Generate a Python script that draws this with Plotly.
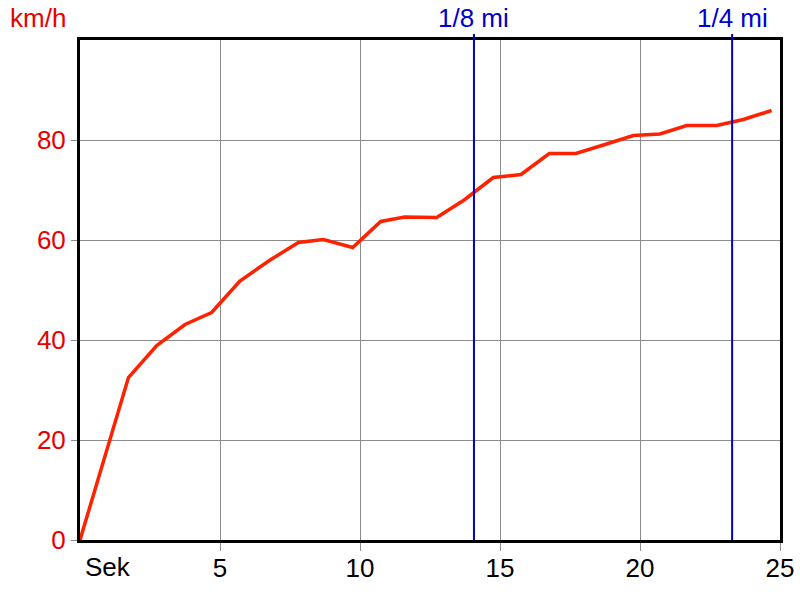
import plotly.graph_objects as go

# Data
time_s = [0, 1.73, 2.74, 3.75, 4.70, 5.71, 6.79, 7.80, 8.69, 9.74, 10.74, 11.6,
          12.74, 13.72, 14.76, 15.75, 16.76, 17.71, 18.75, 19.76, 20.71, 21.67,
          22.74, 23.69, 24.7]
speed_kmh = [0, 32.5, 38.9, 43.1, 45.5, 51.8, 56.0, 59.5, 60.1, 58.5, 63.7, 64.6,
             64.5, 68.0, 72.5, 73.1, 77.3, 77.3, 79.1, 80.9, 81.2, 82.9,
             82.9, 84.1, 85.9]

mile_marks_s = [14.07, 23.29]
mile_labels = ["1/8 mi", "1/4 mi"]

x_ticks = [5, 10, 15, 20, 25]
x_tick_text = ["5", "10", "15", "20", "25"]
y_ticks = [0, 20, 40, 60, 80]

FONT = "Liberation Sans, Arial, sans-serif"
RED = "#e80000"
BLUE = "#0000c8"

fig = go.Figure()
fig.add_trace(go.Scatter(x=time_s, y=speed_kmh, mode="lines",
                         line=dict(color="#ff2200", width=3.5),
                         hoverinfo="skip", showlegend=False))

for xm, lab in zip(mile_marks_s, mile_labels):
    fig.add_shape(type="line", xref="x", yref="paper", x0=xm, x1=xm, y0=0, y1=1.012,
                  line=dict(color=BLUE, width=2), layer="above")
    fig.add_annotation(x=xm, xref="x", y=1.044, yref="paper", yanchor="middle",
                       text=lab, showarrow=False,
                       font=dict(family=FONT, size=26, color=BLUE))

fig.add_annotation(x=-0.06, xref="paper", y=1.044, yref="paper", xanchor="center",
                   yanchor="middle", text="km/h", showarrow=False,
                   font=dict(family=FONT, size=26, color=RED))
fig.add_annotation(x=0, xref="x", y=0, yref="paper", xanchor="left", yanchor="top",
                   xshift=3, yshift=-10, text="Sek", showarrow=False,
                   font=dict(family=FONT, size=26, color="black"))

fig.update_layout(
    width=800, height=600,
    margin=dict(l=80, r=20, t=40, b=60, autoexpand=False),
    paper_bgcolor="white", plot_bgcolor="white",
    font=dict(family=FONT, size=26),
)
fig.update_xaxes(range=[0, 25], tickvals=x_ticks, ticktext=x_tick_text,
                 showgrid=True, gridcolor="#8c8c8c", gridwidth=1,
                 showline=True, linecolor="black", linewidth=3, mirror=True,
                 ticks="outside", ticklen=8, tickcolor="#8c8c8c", tickwidth=1,
                 ticklabelstandoff=-5,
                 tickfont=dict(family=FONT, size=26, color="black"),
                 zeroline=False, fixedrange=True, automargin=False)
fig.update_yaxes(range=[0, 100], tickvals=y_ticks,
                 showgrid=True, gridcolor="#8c8c8c", gridwidth=1,
                 showline=True, linecolor="black", linewidth=3, mirror=True,
                 ticks="outside", ticklen=6, tickcolor="#8c8c8c", tickwidth=1,
                 tickfont=dict(family=FONT, size=26, color=RED),
                 zeroline=False, fixedrange=True, automargin=False)

fig.write_html("out.html", config={"displayModeBar": False},
               post_script="document.body.style.margin='0';document.body.style.overflow='hidden';")
